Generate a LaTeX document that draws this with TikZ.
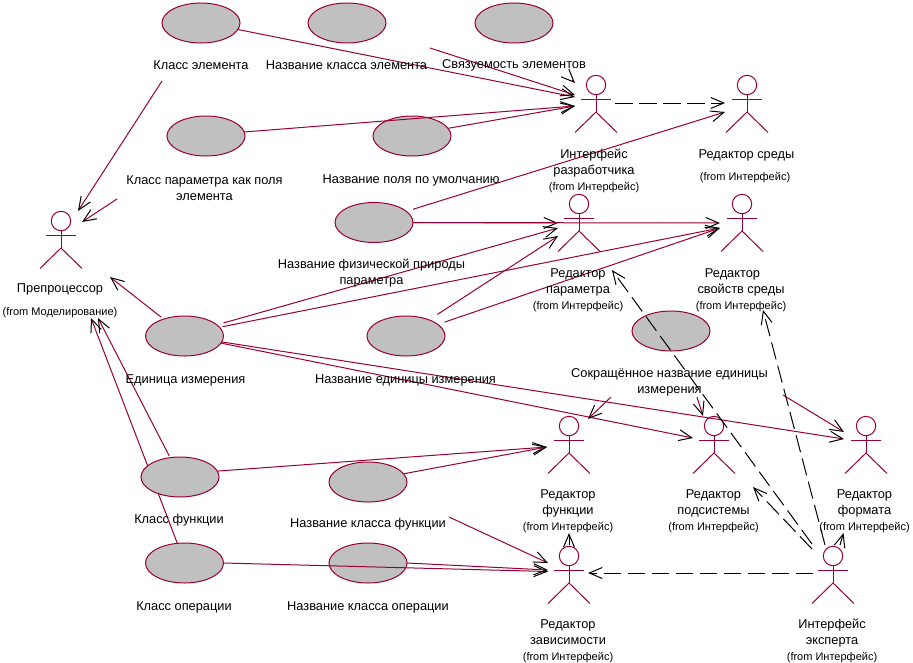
\documentclass[tikz,border=0pt]{standalone}
\usepackage{fontspec}
\setmainfont{Liberation Sans}
\usetikzlibrary{shapes.geometric,arrows.meta,backgrounds}
\definecolor{umlred}{HTML}{990033}
\definecolor{umlgray}{HTML}{C0C0C0}
\newcommand{\fromfont}{\fontsize{11}{16}\selectfont}
\tikzset{
    usecase/.style={ellipse,draw=umlred,fill=umlgray,line width=1pt,minimum width=78pt,minimum height=40pt,inner sep=0pt,outer sep=0pt},
    ulabel/.style={font=\fontsize{12.8}{16}\selectfont,align=center,inner sep=0pt,text=black},
    actorline/.style={draw=umlred,line width=1pt},
    assoc/.style={draw=umlred,line width=1pt,-{Straight Barb[color=black,length=13pt,width=11pt,line width=1pt]}},
    depend/.style={draw=black,line width=1pt,dash pattern=on 17.5pt off 6.5pt,-{Straight Barb[color=black,length=13pt,width=11pt,line width=1pt]}},
    gap/.style={shorten <=#1}
}
\begin{document}
\begin{tikzpicture}[x=1pt,y=-1pt]
    \useasboundingbox (0,0) rectangle (913,662);

    %Use cases
    \foreach \nm/\x/\y in {klassElem/201/23,nazvElem/347/23,svyaz/514/23,klassParam/206/136,nazvPole/412/136,
        fizPrir/374/222.5,edinica/184.5/336,nazvEd/406/336,sokrEd/671/331,
        klassFunk/180/477,nazvFunk/368/482,klassOper/184.5/563,nazvOper/368/563}
        \node[usecase] (\nm) at (\x,\y) {};

    %Actors
    \foreach \nm/\x/\y in {razrab/596/85,sredy/747/85,param/579/204,svoistv/742/204,funkc/569/426,
        podsis/714/426,format/866/426,zavis/569/556,expert/833/556,preproc/61/221}{
        \coordinate (\nm) at (\x,\y);
        \draw[actorline] (\nm) circle (9.7);
        \draw[actorline] ([xshift=-15pt,yshift=-14pt]\nm) -- ([xshift=15pt,yshift=-14pt]\nm);
        \draw[actorline] ([yshift=-9.7pt]\nm) -- ([yshift=-27pt]\nm);
        \draw[actorline] ([xshift=-21pt,yshift=-47.5pt]\nm) -- ([yshift=-27pt]\nm) -- ([xshift=21pt,yshift=-47.5pt]\nm);
    }

    %Free ends of the connectors
    \foreach \nm/\x/\y in {razrabA/575/95,razrabB/575/97,razrabC/575/106,razrabD/575/83,razrabOut/615/103,
        sredyA/725/103,sredyB/725/112,paramA/558/223,paramB/558/228,paramC/558/236,paramD/612/270,
        svoistvA/720/223,svoistvB/720/228,svoistvC/763/310,funkcA/547/447,funkcB/588/419,funkcC/569/533,
        podsisA/693/438,podsisB/703/416,podsisC/753/487,formatA/844/439,formatB/844/432,formatC/843.5/533,
        zavisA/548/563,zavisB/548/570,zavisC/548/571.5,zavisD/588/573,
        preprocA/78/211,preprocB/82/222,preprocC/110/277,preprocD/98/318,preprocE/91/318,
        elemEnd/430/48,svyazEnd/572/80,klassElemEnd/162/81,klassParamEnd/117/199,nazvFunkEnd/449/517,
        sokrA/611/397,sokrB/697/397,sokrC/783/395,zavisUp/569/545,expertUp/840/545,
        expertA/813/573,expertB/812/544,expertC/812/549,expertD/825/545}
        \coordinate (\nm) at (\x,\y);

    %Associations
    \draw[assoc] (klassElem.-10) -- (razrabB);
    \draw[assoc] (elemEnd) -- (razrabA);
    \draw[assoc] (svyazEnd) -- (razrabD);
    \draw[assoc] (klassParam.6) -- (razrabC);
    \draw[assoc] (nazvPole.12) -- (razrabC);
    \draw[assoc,gap=7pt] (fizPrir.19) -- (sredyB);
    \draw[assoc] (fizPrir.east) -- (paramA);
    \draw[assoc] (fizPrir.east) -- (svoistvA);
    \draw[assoc,gap=7pt] (edinica.19.5) -- (paramB);
    \draw[assoc,gap=3pt] (edinica.14) -- (svoistvB);
    \draw[assoc,gap=10pt] (nazvEd.35) -- (paramC);
    \draw[assoc,gap=7pt] (nazvEd.20.6) -- (svoistvB);
    \draw[assoc] (edinica.-9) -- (formatA);
    \draw[assoc] (edinica.-11.5) -- (podsisA);
    \draw[assoc,gap=3pt] (edinica.141) -- (preprocC);
    \draw[assoc] (klassElemEnd) -- (preprocA);
    \draw[assoc] (klassParamEnd) -- (preprocB);
    \draw[assoc,gap=2pt] (klassFunk.117.5) -- (preprocD);
    \begin{scope}[on background layer]
        \draw[assoc] (klassOper.110) -- (preprocE);
    \end{scope}
    \draw[assoc] (klassFunk.9) -- (funkcA);
    \draw[assoc] (nazvFunk.13) -- (funkcA);
    \draw[assoc] (nazvFunkEnd) -- (zavisA);
    \draw[assoc] (klassOper.east) -- (zavisC);
    \draw[assoc] (nazvOper.east) -- (zavisB);
    \draw[assoc] (sokrA) -- (funkcB);
    \draw[assoc] (sokrB) -- (podsisB);
    \draw[assoc] (sokrC) -- (formatB);

    %Dependencies
    \draw[depend] (razrabOut) -- (sredyA);
    \draw[depend] (expertA) -- (zavisD);
    \draw[depend] (expertB) -- (paramD);
    \draw[depend] (expertC) -- (podsisC);
    \draw[depend] (expertD) -- (svoistvC);
    \draw[depend] (zavisUp) -- (funkcC);
    \draw[depend] (expertUp) -- (formatC);

    %Use case labels
    \node[ulabel] (lbKlassElem) at (201,65) {Класс элемента};
    \node[ulabel] (lbNazvElem) at (346.5,65) {Название класса элемента};
    \node[ulabel] (lbSvyaz) at (514,65) {Связуемость элементов};
    \node[ulabel] (lbKlassParam) at (204.5,188) {Класс параметра как поля\\элемента};
    \node[ulabel] (lbNazvPole) at (411,180) {Название поля по умолчанию};
    \node[ulabel] (lbFizPrir) at (371.5,273.5) {Название физической природы\\параметра};
    \node[ulabel] (lbEdinica) at (185.5,380) {Единица измерения};
    \node[ulabel] (lbNazvEd) at (405.5,380) {Название единицы измерения};
    \node[ulabel] (lbSokrEd) at (669.5,382) {Сокращённое название единицы\\измерения};
    \node[ulabel] (lbKlassFunk) at (179,520) {Класс функции};
    \node[ulabel] (lbNazvFunk) at (368,524) {Название класса функции};
    \node[ulabel] (lbKlassOper) at (184,607) {Класс операции};
    \node[ulabel] (lbNazvOper) at (368,607) {Название класса операции};

    %Actor labels
    \node[ulabel] (lbPreproc) at (60,289) {Препроцессор};
    \node[ulabel] (lbPreprocFrom) at (60,313) {\fromfont (from Моделирование)};
    \node[ulabel] (lbRazrab) at (594,171) {Интерфейс\\разработчика\\{\fromfont (from Интерфейс)}};
    \node[ulabel] (lbSredy) at (746.5,155) {Редактор среды};
    \node[ulabel] (lbSredyFrom) at (745,178) {\fromfont (from Интерфейс)};
    \node[ulabel] (lbParam) at (578,290) {Редактор\\параметра\\{\fromfont (from Интерфейс)}};
    \node[ulabel] (lbSvoistv) at (741,290) {Редактор\hspace*{17pt}\\свойств среды\\{\fromfont (from Интерфейс)}};
    \node[ulabel] (lbFunkc) at (568,511) {Редактор\\функции\\{\fromfont (from Интерфейс)}};
    \node[ulabel] (lbPodsis) at (713.5,511) {Редактор\\подсистемы\\{\fromfont (from Интерфейс)}};
    \node[ulabel] (lbFormat) at (864.5,511) {Редактор\\формата\\{\fromfont (from Интерфейс)}};
    \node[ulabel] (lbZavis) at (568,641) {Редактор\\зависимости\\{\fromfont (from Интерфейс)}};
    \node[ulabel] (lbExpert) at (832,641) {Интерфейс\\эксперта\\{\fromfont (from Интерфейс)}};
\end{tikzpicture}
\end{document}
